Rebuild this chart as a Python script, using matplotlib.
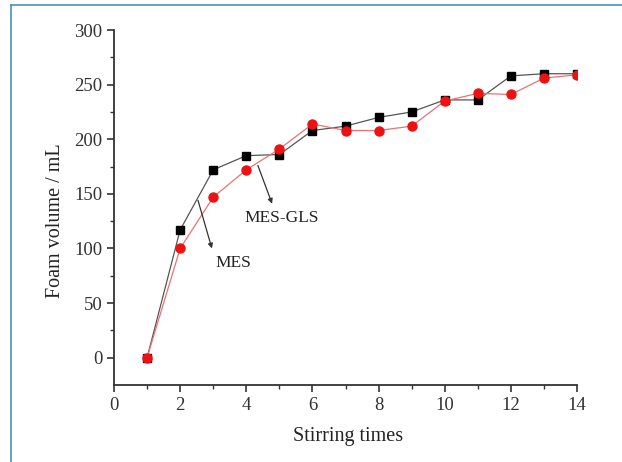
import numpy as np
import matplotlib.pyplot as plt
from matplotlib.lines import Line2D

# stirring times and foam volume (mL)
stir = np.arange(1, 15)
mes_gls = [0, 117, 172, 185, 186, 208, 212, 220, 225, 236, 236, 258, 260, 260]
mes = [0, 100, 147, 172, 191, 214, 208, 208, 212, 235, 242, 241, 256, 259]

plt.rcParams['font.family'] = ['Liberation Serif', 'DejaVu Serif']

fig = plt.figure(figsize=(6.22, 4.62), dpi=100)
ax = fig.add_axes([0.1833, 0.1667, 0.7444, 0.7683])

ax.plot(stir, mes_gls, color='#555555', lw=0.9, marker='s', ms=6,
        mfc='black', mec='black', zorder=2)
ax.plot(stir, mes, color='#f07070', lw=0.9, marker='o', ms=6.5,
        mfc='#ee1111', mec='#ee1111', zorder=3)

ax.set_xlim(0, 14)
ax.set_ylim(-25, 300)
ax.set_xticks(np.arange(0, 15, 2))
ax.set_xticks(np.arange(1, 14, 2), minor=True)
ax.set_yticks(np.arange(0, 301, 50))
ax.set_yticks(np.arange(25, 300, 50), minor=True)
ax.spines['top'].set_visible(False)
ax.spines['right'].set_visible(False)
for s in ('left', 'bottom'):
    ax.spines[s].set_linewidth(1.3)
    ax.spines[s].set_color('#333333')
ax.tick_params(which='major', direction='out', length=5, width=1.2,
               labelsize=13.5, colors='#333333')
ax.tick_params(which='minor', direction='out', length=3, width=1.0,
               colors='#333333')
ax.set_xlabel('Stirring times', fontsize=14.5, color='#222222')
ax.set_ylabel('Foam volume / mL', fontsize=14.5, color='#222222')
ax.xaxis.set_label_coords(0.505, -0.146)
ax.yaxis.set_label_coords(-0.127, 0.462)
ax.xaxis.label.set_va('center')
ax.yaxis.label.set_va('center')

# annotations
ax.annotate('', xy=(4.78, 141), xytext=(4.35, 176),
            arrowprops=dict(arrowstyle='-|>', color='#333333', lw=0.9,
                            mutation_scale=7, shrinkA=0, shrinkB=0))
ax.text(5.07, 128, 'MES-GLS', fontsize=12.5, ha='center', va='center',
        color='#222222')
ax.annotate('', xy=(2.96, 100), xytext=(2.54, 144),
            arrowprops=dict(arrowstyle='-|>', color='#333333', lw=0.9,
                            mutation_scale=7, shrinkA=0, shrinkB=0))
ax.text(3.61, 87, 'MES', fontsize=12.5, ha='center', va='center',
        color='#222222')

# thin frame on top and left edges of the picture
fc = '#4a93b3'
fig.add_artist(Line2D([11 / 622, 1], [1 - 5 / 462, 1 - 5 / 462],
                      color=fc, lw=1.2, transform=fig.transFigure))
fig.add_artist(Line2D([11 / 622, 11 / 622], [0, 1 - 5 / 462],
                      color=fc, lw=1.2, transform=fig.transFigure))

fig.savefig('out.png', dpi=100)
